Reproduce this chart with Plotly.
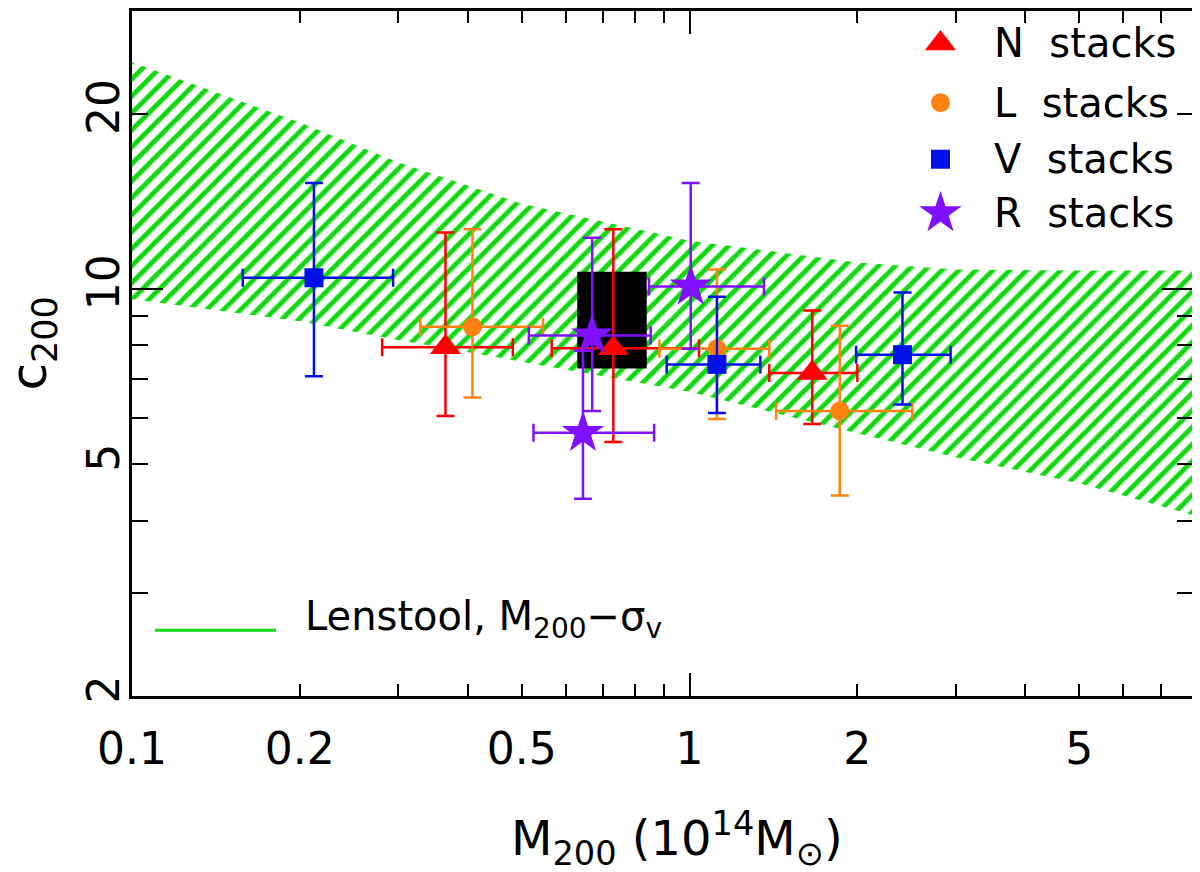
import numpy as np
import plotly.graph_objects as go

# c200 - M200 for stacked clusters, with the Lenstool M200-sigma_v band

# band (upper / lower edge of hatched region)
band_m = [0.1, 0.2, 0.3, 0.5, 1.0, 2.0, 3.0, 5.0, 8.0]
band_hi = [24.5, 19.3, 16.5, 14.0, 12.1, 11.1, 10.8, 10.75, 10.75]
band_lo = [9.6, 8.8, 8.17, 7.5, 6.66, 5.65, 5.14, 4.64, 4.09]

# black box
box_m = [0.629, 0.838]
box_c = [7.3, 10.7]

# N stacks
n_m = [0.365, 0.730, 1.66]
n_m_lo = [0.281, 0.566, 1.39]
n_m_hi = [0.482, 1.04, 2.00]
n_c = [7.94, 7.91, 7.17]
n_c_lo = [6.05, 5.46, 5.86]
n_c_hi = [12.5, 12.66, 9.18]

# L stacks
l_m = [0.408, 1.12, 1.86]
l_m_lo = [0.329, 0.883, 1.43]
l_m_hi = [0.546, 1.39, 2.51]
l_c = [8.61, 7.89, 6.17]
l_c_lo = [6.51, 5.98, 4.42]
l_c_hi = [12.66, 10.8, 8.64]

# V stacks
v_m = [0.212, 1.12, 2.41]
v_m_lo = [0.158, 0.910, 1.99]
v_m_hi = [0.294, 1.34, 2.94]
v_c = [10.45, 7.42, 7.71]
v_c_lo = [7.08, 6.12, 6.33]
v_c_hi = [15.2, 9.69, 9.86]

# R stacks
r_m = [0.669, 0.644, 1.005]
r_m_lo = [0.515, 0.525, 0.846]
r_m_hi = [0.852, 0.864, 1.36]
r_c = [8.32, 5.66, 10.1]
r_c_lo = [6.17, 4.36, 7.89]
r_c_hi = [12.24, 7.83, 15.2]

x_ticks = [0.1, 0.2, 0.3, 0.4, 0.5, 0.6, 0.7, 0.8, 0.9, 1, 2, 3, 4, 5, 6, 7, 8]
x_labels = {0.1: "0.1", 0.2: "0.2", 0.5: "0.5", 1: "1", 2: "2", 5: "5"}
y_ticks = [2, 3, 4, 5, 6, 7, 8, 9, 10, 20, 30]
y_labels = {2: "2", 5: "5", 10: "10", 20: "20"}

GREEN = "#12d812"
FONT = "DejaVu Sans"

fig = go.Figure()

fig.add_trace(go.Scatter(
    x=band_m + band_m[::-1], y=band_hi + band_lo[::-1],
    fill="toself", mode="lines", line=dict(width=0),
    fillcolor="rgba(0,0,0,0)",
    fillpattern=dict(shape="/", fgcolor=GREEN, fgopacity=1, bgcolor="rgba(0,0,0,0)",
                     size=12, solidity=0.4),
    showlegend=False, hoverinfo="skip"))

fig.add_trace(go.Scatter(
    x=[box_m[0], box_m[1], box_m[1], box_m[0], box_m[0]],
    y=[box_c[0], box_c[0], box_c[1], box_c[1], box_c[0]],
    fill="toself", fillcolor="black", mode="lines",
    line=dict(width=0, color="black"), showlegend=False, hoverinfo="skip"))

stacks = [
    ("N", n_m, n_m_lo, n_m_hi, n_c, n_c_lo, n_c_hi, "#ff0000", "triangle-up", 27),
    ("L", l_m, l_m_lo, l_m_hi, l_c, l_c_lo, l_c_hi, "#ff8210", "circle", 19),
    ("V", v_m, v_m_lo, v_m_hi, v_c, v_c_lo, v_c_hi, "#0010e8", "square", 19),
    ("R", r_m, r_m_lo, r_m_hi, r_c, r_c_lo, r_c_hi, "#8010ff", "star", 32),
]

for name, m, mlo, mhi, c, clo, chi, color, symbol, size in stacks:
    m = np.array(m); c = np.array(c)
    fig.add_trace(go.Scatter(
        x=m, y=c, mode="markers", name=name + "  stacks", showlegend=False,
        marker=dict(symbol=symbol, size=size, color=color, opacity=1, line=dict(width=0)),
        error_x=dict(type="data", symmetric=False,
                     array=np.array(mhi) - m, arrayminus=m - np.array(mlo),
                     color=color, thickness=2.5, width=9),
        error_y=dict(type="data", symmetric=False,
                     array=np.array(chi) - c, arrayminus=c - np.array(clo),
                     color=color, thickness=2.5, width=9)))

# long ticks on a second pair of axes
fig.add_trace(go.Scatter(x=[1], y=[10], xaxis="x2", yaxis="y2", mode="markers",
                         marker=dict(opacity=0), showlegend=False, hoverinfo="skip"))

# legend keys drawn on a hidden 0-1 axis pair (upper right)
key_x = 0.762
key_y = [0.9526, 0.8662, 0.7836, 0.7050]
fig.add_trace(go.Scatter(
    x=[key_x] * 4, y=key_y, xaxis="x3", yaxis="y3", mode="markers",
    marker=dict(symbol=[s[8] for s in stacks], size=[s[9] for s in stacks],
                color=[s[7] for s in stacks], opacity=1, line=dict(width=0)),
    showlegend=False, hoverinfo="skip"))
for s, ky in zip(stacks, key_y):
    fig.add_annotation(xref="paper", yref="paper", x=0.811, y=ky,
                       xanchor="left", yanchor="middle", showarrow=False,
                       text=s[0] + "  stacks", font=dict(size=40))

xr = [np.log10(0.1), np.log10(8.0)]
yr = [np.log10(2.0), np.log10(30.0)]

axis_common = dict(showline=True, linecolor="black", linewidth=3, mirror="allticks",
                   ticks="inside", tickcolor="black", showgrid=False, zeroline=False,
                   automargin=False)

fig.update_layout(
    width=1200, height=872,
    margin=dict(l=124, r=15, t=3, b=184, autoexpand=False),
    paper_bgcolor="white", plot_bgcolor="white",
    font=dict(family=FONT, size=44, color="black"),
    xaxis=dict(type="log", range=xr, tickvals=x_ticks,
               ticktext=[x_labels.get(v, "") for v in x_ticks],
               ticklen=12, tickwidth=2, ticklabelstandoff=12,
               **axis_common),
    yaxis=dict(type="log", range=yr, tickvals=y_ticks,
               ticktext=[y_labels.get(v, "") for v in y_ticks],
               ticklen=16, tickwidth=2, tickangle=-90, ticklabelstandoff=-8,
               **axis_common),
    xaxis2=dict(type="log", range=xr, overlaying="x", side="bottom", tickvals=[0.1, 1],
                ticktext=["", ""], ticklen=23, tickwidth=2, **axis_common),
    yaxis2=dict(type="log", range=yr, overlaying="y", side="left", tickvals=[10],
                ticktext=[""], ticklen=31, tickwidth=2, **axis_common),
    xaxis3=dict(range=[0, 1], overlaying="x", visible=False, fixedrange=True),
    yaxis3=dict(range=[0, 1], overlaying="y", visible=False, fixedrange=True),
    showlegend=False,
)

# axis titles
fig.add_annotation(xref="paper", yref="paper", x=0.514, y=-0.208,
                   xanchor="center", yanchor="middle", showarrow=False,
                   text="M<sub>200</sub> (10<sup>14</sup>M<sub>\u2299</sub>)",
                   font=dict(size=48))
fig.add_annotation(xref="paper", yref="paper", x=-0.094, y=0.515,
                   xanchor="center", yanchor="middle", showarrow=False,
                   textangle=-90, text="c<sub>200</sub>", font=dict(size=50))

# lower-left legend for the band
fig.add_shape(type="line", xref="paper", yref="paper",
              x0=0.0217, x1=0.1357, y0=0.0961, y1=0.0961,
              line=dict(color=GREEN, width=3))
fig.add_annotation(xref="paper", yref="paper", x=0.161, y=0.113,
                   xanchor="left", yanchor="middle", showarrow=False,
                   text="Lenstool, M<sub>200</sub>\u2212\u03c3<sub>v</sub>",
                   font=dict(size=40))

fig.write_html("out.html")
